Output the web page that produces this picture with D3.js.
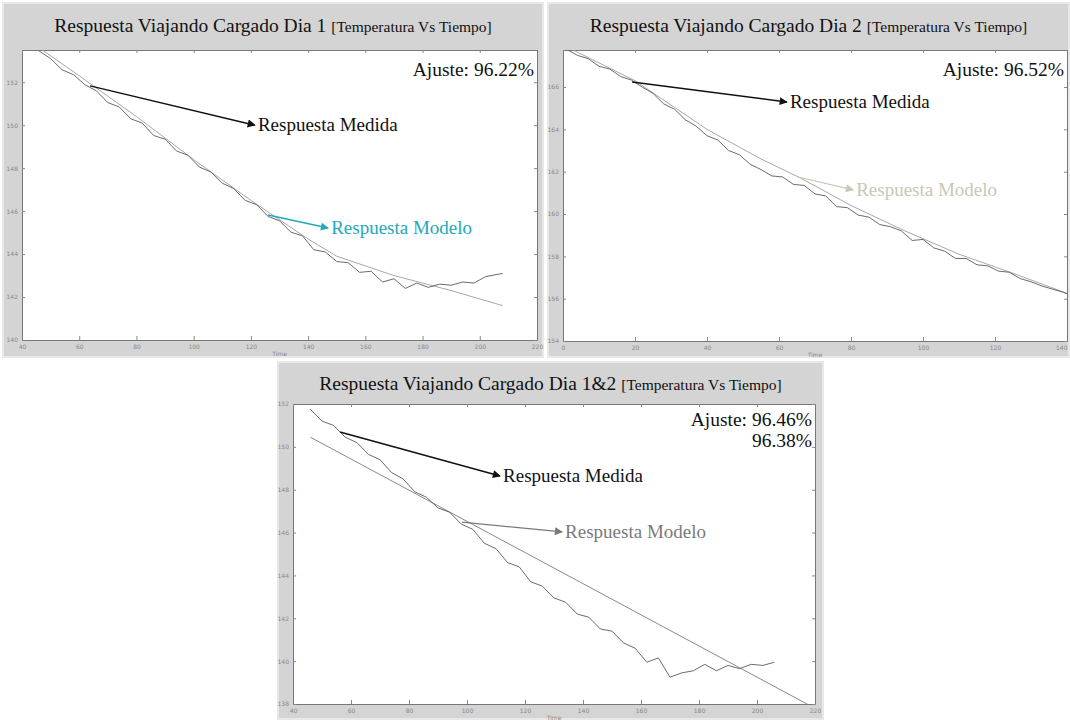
<!DOCTYPE html>
<html>
<head>
<meta charset="utf-8">
<script src="https://cdn.jsdelivr.net/npm/d3@7"></script>
<style>
body { margin: 0; background: #fff; }
</style>
</head>
<body>
<svg width="1070" height="720"></svg>
<script>
// ---- Dia 1 ----
var t1 = [46, 50, 54, 58, 62, 66, 70, 74, 78, 82, 86, 90, 94, 98, 102, 106, 110, 114, 118, 122,
          126, 130, 134, 138, 142, 146, 150, 154, 158, 162, 166, 170, 174, 178, 182, 186, 190, 194, 198, 202, 206, 208];
var med1 = [153.45, 153.10, 152.58, 152.35, 151.88, 151.60, 151.05, 150.85, 150.30, 150.10, 149.52, 149.35, 148.80, 148.60, 148.05, 147.82, 147.30, 147.05, 146.50, 146.30,
            145.75, 145.55, 145.02, 144.85, 144.20, 144.10, 143.65, 143.60, 143.15, 143.20, 142.70, 142.85, 142.40, 142.65, 142.45, 142.60, 142.55, 142.70, 142.65, 142.95, 143.05, 143.10];
var tm1 = [46, 60, 80, 100, 120, 140, 150, 170, 190, 208];
var mod1 = [153.6, 152.3, 150.4, 148.4, 146.5, 144.7, 143.9, 143.0, 142.3, 141.6];

// ---- Dia 2 ----
var t2 = [1, 4, 7, 10, 13, 16, 19, 22, 25, 28, 31, 34, 37, 40, 43, 46, 49, 52, 55, 58,
          61, 64, 67, 70, 73, 76, 79, 82, 85, 88, 91, 94, 97, 100, 103, 106, 109, 112, 115, 118,
          121, 124, 127, 130, 133, 136, 139, 140.8];
var med2 = [167.78, 167.50, 167.34, 166.98, 166.85, 166.50, 166.33, 166.00, 165.70, 165.20, 164.95, 164.45, 164.15, 163.70, 163.50, 163.00, 162.80, 162.35, 162.10, 161.80,
            161.75, 161.40, 161.35, 160.95, 160.85, 160.35, 160.30, 159.95, 159.85, 159.50, 159.40, 159.20, 158.75, 158.80, 158.40, 158.25, 157.90, 157.90, 157.60, 157.55,
            157.30, 157.25, 156.95, 156.80, 156.60, 156.45, 156.30, 156.17];
var tm2 = [1, 20, 40, 55, 66, 80, 95, 110, 125, 140.8];
var mod2 = [167.9, 166.3, 164.0, 162.6, 161.7, 160.4, 159.2, 158.1, 157.2, 156.2];

// ---- Dia 1&2 ----
var t3 = [46, 50, 54, 58, 62, 66, 70, 74, 78, 82, 86, 90, 94, 98, 102, 106, 110, 114, 118, 122,
          126, 130, 134, 138, 142, 146, 150, 154, 158, 162, 166, 170, 174, 178, 182, 186, 190, 194, 198, 202, 206];
var med3 = [151.75, 151.20, 151.00, 150.45, 150.20, 149.65, 149.40, 148.80, 148.50, 147.90, 147.65, 147.15, 146.95, 146.40, 146.15, 145.50, 145.25, 144.60, 144.40, 143.70,
            143.50, 142.95, 142.75, 142.20, 142.05, 141.50, 141.40, 140.85, 140.60, 139.95, 140.15, 139.25, 139.45, 139.55, 139.85, 139.55, 139.80, 139.65, 139.85, 139.80, 139.95];
var tm3 = [46, 220];
var mod3 = [150.45, 137.8];

// ticks
var xTicks1 = [40, 60, 80, 100, 120, 140, 160, 180, 200, 220];
var yTicks1 = [140, 142, 144, 146, 148, 150, 152];
var xTicks2 = [0, 20, 40, 60, 80, 100, 120, 140];
var yTicks2 = [154, 156, 158, 160, 162, 164, 166];
var xTicks3 = [40, 60, 80, 100, 120, 140, 160, 180, 200, 220];
var yTicks3 = [138, 140, 142, 144, 146, 148, 150, 152];

var SERIF = "'Liberation Serif', 'Times New Roman', serif";
var svg = d3.select("svg");
var defs = svg.append("defs");

function marker(id, color) {
  defs.append("marker")
    .attr("id", id)
    .attr("viewBox", "0 0 10 10")
    .attr("refX", 9).attr("refY", 5)
    .attr("markerWidth", 13).attr("markerHeight", 8)
    .attr("markerUnits", "userSpaceOnUse")
    .attr("orient", "auto")
    .append("path").attr("d", "M0,0L10,5L0,10z").attr("fill", color);
}
marker("arK", "#111");
marker("arC", "#22aab8");
marker("arP", "#c8c8b4");
marker("arG", "#7a7a7a");

function panel(o) {
  var g = svg.append("g");
  g.append("rect")
    .attr("x", o.fx).attr("y", o.fy).attr("width", o.fw).attr("height", o.fh)
    .attr("fill", "#d4d4d4").attr("stroke", "#e8e8e8").attr("stroke-width", 2);

  var x = d3.scaleLinear().domain(o.xDom).range([o.l, o.r]);
  var y = d3.scaleLinear().domain(o.yDom).range([o.b, o.t]);

  g.append("rect")
    .attr("x", o.l).attr("y", o.t).attr("width", o.r - o.l).attr("height", o.b - o.t)
    .attr("fill", "#fff");

  // title
  var title = g.append("text")
    .attr("x", o.fx + o.fw / 2).attr("y", o.fy + o.titleY)
    .attr("text-anchor", "middle").attr("fill", "#111").attr("font-family", SERIF);
  title.append("tspan").attr("font-size", 19.5).text(o.title + " ");
  title.append("tspan").attr("font-size", 15.5).text("[Temperatura Vs Tiempo]");

  // axes
  g.append("g").attr("class", "axis")
    .attr("transform", "translate(0," + o.b + ")")
    .call(d3.axisBottom(x).tickValues(o.xTicks).tickSize(-4).tickSizeOuter(0).tickPadding(5));
  g.append("g").attr("class", "axis")
    .attr("transform", "translate(" + o.l + ",0)")
    .call(d3.axisLeft(y).tickValues(o.yTicks).tickSize(-3).tickSizeOuter(0).tickPadding(4));
  g.append("g").attr("class", "axis")
    .attr("transform", "translate(0," + o.t + ")")
    .call(d3.axisTop(x).tickValues(o.xTicks).tickSize(-3).tickSizeOuter(0).tickFormat(""));
  g.append("g").attr("class", "axis")
    .attr("transform", "translate(" + o.r + ",0)")
    .call(d3.axisRight(y).tickValues(o.yTicks).tickSize(-3).tickSizeOuter(0).tickFormat(""));
  g.selectAll(".axis path").attr("stroke", "#777");
  g.selectAll(".axis line").attr("stroke", "#888");
  g.selectAll(".axis text").attr("font-size", 6).attr("fill", "#888").attr("font-family", "DejaVu Sans");
  if (o.lastEnd) {
    g.selectAll(".axis text").filter(function (d) { return d === o.xDom[1]; }).attr("text-anchor", "end");
  }

  g.append("text")
    .attr("x", (o.l + o.r) / 2).attr("y", o.b + 16)
    .attr("text-anchor", "middle").attr("font-size", 6).attr("fill", "#888")
    .attr("font-family", "DejaVu Sans").text("Time");

  var clipId = "clip" + o.id;
  defs.append("clipPath").attr("id", clipId)
    .append("rect").attr("x", o.l).attr("y", o.t).attr("width", o.r - o.l).attr("height", o.b - o.t);

  var line = d3.line().x(function (d) { return x(d[0]); }).y(function (d) { return y(d[1]); });
  var plot = g.append("g").attr("clip-path", "url(#" + clipId + ")");
  plot.append("path")
    .datum(d3.zip(o.tm, o.mod))
    .attr("d", line).attr("fill", "none")
    .attr("stroke", o.modColor).attr("stroke-width", 1);
  plot.append("path")
    .datum(d3.zip(o.tx, o.med))
    .attr("d", line).attr("fill", "none")
    .attr("stroke", "#5a5a5a").attr("stroke-width", 0.9);

  // fit text
  o.ajuste.forEach(function (s, i) {
    g.append("text")
      .attr("x", o.r - 3).attr("y", o.t + o.ajY + i * 21)
      .attr("text-anchor", "end").attr("font-size", 19.5).attr("fill", "#111")
      .attr("font-family", SERIF)
      .text(s);
  });

  // annotations
  o.notes.forEach(function (n) {
    g.append("line")
      .attr("x1", x(n.from[0])).attr("y1", y(n.from[1]))
      .attr("x2", x(n.to[0])).attr("y2", y(n.to[1]))
      .attr("stroke", n.color).attr("stroke-width", n.w)
      .attr("marker-end", "url(#" + n.marker + ")");
    g.append("text")
      .attr("x", x(n.to[0]) + 3).attr("y", y(n.to[1]) + 6)
      .attr("font-size", 19).attr("fill", n.color)
      .attr("font-family", SERIF)
      .text(n.label);
  });
}

panel({
  id: 1, fx: 3, fy: 3, fw: 540, fh: 354, titleY: 28.5,
  l: 22, r: 537, t: 50, b: 340, ajY: 26,
  xDom: [40, 220], yDom: [140, 153.5], xTicks: xTicks1, yTicks: yTicks1,
  title: "Respuesta Viajando Cargado Dia 1",
  tx: t1, med: med1, tm: tm1, mod: mod1, modColor: "#a8a8a8",
  ajuste: ["Ajuste: 96.22%"],
  notes: [
    { from: [63.8, 151.83], to: [121.4, 150.0], color: "#111", w: 1.5, marker: "arK", label: "Respuesta Medida" },
    { from: [126.0, 145.82], to: [147.0, 145.21], color: "#22aab8", w: 1.5, marker: "arC", label: "Respuesta Modelo" }
  ]
});

panel({
  id: 2, fx: 548, fy: 3, fw: 521, fh: 354, titleY: 28.5, lastEnd: true,
  l: 563, r: 1067, t: 50, b: 341, ajY: 26,
  xDom: [0, 140], yDom: [154, 167.75], xTicks: xTicks2, yTicks: yTicks2,
  title: "Respuesta Viajando Cargado Dia 2",
  tx: t2, med: med2, tm: tm2, mod: mod2, modColor: "#a8a8a8",
  ajuste: ["Ajuste: 96.52%"],
  notes: [
    { from: [19.2, 166.24], to: [62.2, 165.29], color: "#111", w: 1.5, marker: "arK", label: "Respuesta Medida" },
    { from: [65.3, 161.75], to: [80.6, 161.14], color: "#c8c8b4", w: 1.2, marker: "arP", label: "Respuesta Modelo" }
  ]
});

panel({
  id: 3, fx: 278, fy: 362, fw: 545, fh: 357, titleY: 28,
  l: 293, r: 815, t: 404, b: 704, ajY: 22,
  xDom: [40, 220], yDom: [138, 152], xTicks: xTicks3, yTicks: yTicks3,
  title: "Respuesta Viajando Cargado Dia 1&2",
  tx: t3, med: med3, tm: tm3, mod: mod3, modColor: "#8a8a8a",
  ajuste: ["Ajuste: 96.46%", "96.38%"],
  notes: [
    { from: [56.2, 150.69], to: [111.4, 148.64], color: "#111", w: 1.5, marker: "arK", label: "Respuesta Medida" },
    { from: [98.3, 146.49], to: [132.8, 146.03], color: "#7a7a7a", w: 1.2, marker: "arG", label: "Respuesta Modelo" }
  ]
});
</script>
</body>
</html>
